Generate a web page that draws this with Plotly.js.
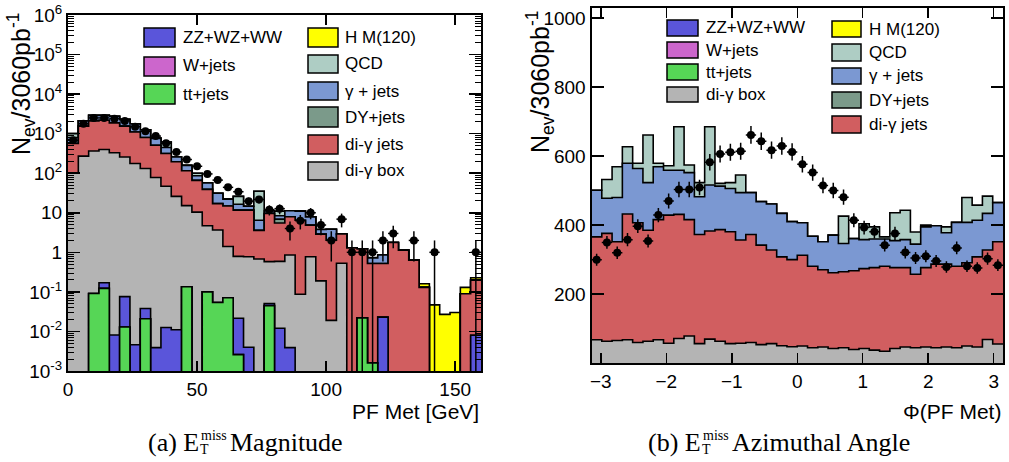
<!DOCTYPE html>
<html><head><meta charset="utf-8">
<script src="https://cdn.plot.ly/plotly-3.0.1.min.js"></script>
<style>html,body{margin:0;padding:0;background:#fff;}#chart{width:1009px;height:462px;}</style>
</head><body><div id="chart"></div>
<script>
// ---------------- data : left panel, PF MET magnitude (40 bins of 4 GeV, 0-160) ----------------
const metStart = 0, metWidth = 4, nBins = 40;
const met_ttjets  = [0,0,0.091,0.123,0,0.013,0,0.021,0,0,0,0.135,0,0.1,0.054,0.071,0.0026,0,0,0.045,0,0,0,0,0,0,0,0,0.022,0.0016,0,0,0,0,0,0,0,0,0,0];
const met_wjets   = [0,0,0,0,0,0,0,0,0,0,0,0,0,0,0,0,0,0,0,0,0,0,0,0,0,0,0,0,0,0,0,0,0,0,0,0,0,0,0,0];
const met_diboson = [0,0,0,0.047,0.0081,0.063,0.0046,0.017,0.0039,0.0126,0.011,0,0,0,0,0,0.019,0.004,0,0.006,0.012,0.0039,0,0,0,0,0,0,0,0,0.023,0,0,0,0,0,0,0,0,0.008];
const met_digbox  = [102,270,363,397,330,258,176,132,78,47,26,15,10.4,4.6,3.6,1.33,0.77,0.77,0.68,0.53,0.58,0.85,0.087,0.77,0.19,0.019,0.53,0,0,0,0,0,0,0,0,0,0,0,0,0];
const met_digjets = [460,1280,1740,1790,1540,1290,924,668,432,269,169,100,55.6,34.4,13.4,13.4,10.9,10.9,2.9,9.1,4.9,7.05,6.4,4.1,2.7,2.0,2.37,1.3,1.2,0.52,0.5,1.78,1.14,0.63,0.13,0,0,0,0.09,0.19];
const met_dyjets  = [0,0,0,0,0,0,0,0,0,0,0,0,0,0,0,0,0,0,0,0,1.4,0,0,0,0,0,0,0,0,0,0,0,0,0,0,0,0,0,0,0];
const met_gjets   = [238,550,800,710,880,750,650,450,250,130,63,43,20,18,14,7.3,4.8,3,2.9,1.4,1.5,3.3,4.5,3,0.9,1.8,0,0,0,0.2,0.33,0,0,0,0,0,0,0,0,0];
const met_qcd     = [200,0,0,0,0,0,0,0,20,170,0,0,14,0,0,0,9.5,0,28.5,0,2.5,0,0,0,0,0,0,0,0,0,0,0,0,0,0,0,0,0,0,0];
const met_higgs   = [0,0,0,0,0,0,0,0,0,0,0,0,0,0,0,0,0,0,0,0,0,0,0,0,0,0,0,0,0,0.02,0,0,0,0.02,0.03,0.047,0.027,0.03,0.04,0.03];
const met_data    = [680,1780,2500,2500,2400,2100,1500,1150,870,570,345,222,150,96,67,44,34,19.7,21.7,12,12.7,4,6.3,10,4.9,2.0,6.9,1,1,1,2,3,0,2,0,1,0,0,0,1];
const metTickVals = [0,50,100,150];
const logTickVals = [1e-3,1e-2,1e-1,1,10,100,1e3,1e4,1e5,1e6];
const logTickText = ['10<sup>-3</sup>','10<sup>-2</sup>','10<sup>-1</sup>','1','10','10<sup>2</sup>','10<sup>3</sup>','10<sup>4</sup>','10<sup>5</sup>','10<sup>6</sup>'];

// ---------------- data : right panel, PF MET azimuthal angle (40 bins, -pi..pi) ----------------
const phiStart = -Math.PI, phiWidth = 2*Math.PI/40;
const phi_digbox  = [68,64,66,68,60,64,68,58,72,79,57,70,64,57,58,60,54,57,51,48,50,45,47,43,45,40,43,38,35,43,47,45,47,45,47,45,50,47,69,56];
const phi_digjets = [298,312,286,364,347,321,348,371,359,337,316,313,323,324,299,313,288,271,257,252,263,236,224,219,220,228,231,239,246,234,230,213,230,242,240,236,241,261,259,296];
const phi_gjets   = [135,102,128,147,157,138,153,130,128,136,109,133,126,125,137,121,126,133,126,110,94,87,81,109,82,93,84,83,79,78,81,87,118,111,91,127,117,106,106,113];
const phi_qcd     = [0,54,89,48,15,138,10,13,126,22,41,169,8,17,51,0,0,0,0,0,0,0,0,0,79,0,46,35,6,81,85,35,5,0,17,0,72,44,50,0];
const phi_data    = [300,350,320,358,397,354,429,470,503,503,509,582,606,611,614,661,643,617,629,612,576,552,515,500,481,414,393,381,342,376,321,305,310,296,279,334,281,276,303,284];
const phiTickVals = [-3,-2,-1,0,1,2,3];
const linTickVals = [200,400,600,800,1000];

// ---------------- style ----------------
const C = {zz:'#5a55da', w:'#cc66cc', tt:'#56d656', h:'#ffff00', qcd:'#aecdc4', gj:'#7b98d2', dy:'#7b9a8a', dgj:'#d15e60', box:'#b4b4b4'};
const SANS = 'Liberation Sans, Arial, Helvetica, sans-serif';
const SERIF = 'Liberation Serif, Times New Roman, serif';
const W = 1009, H = 462;
const px = x => x / W, py = y => 1 - y / H;

const traces = [];
function edges(start, width){ const e=[]; for(let i=0;i<=nBins;i++) e.push(start+i*width); return e; }
function centers(start, width){ const c=[]; for(let i=0;i<nBins;i++) c.push(start+(i+0.5)*width); return c; }

function addStack(comps, xa, ya, start, width, isLog){
  const ex = edges(start, width);
  let cum = new Array(nBins).fill(0);
  const levels = [];
  comps.forEach(c => { cum = cum.map((v,i)=>v+c.vals[i]); levels.push({color:c.color, y:cum.slice()}); });
  for(let k=levels.length-1;k>=0;k--){
    const L = levels[k];
    let y = L.y.concat([L.y[nBins-1]]);
    if(isLog) y = y.map(v => Math.max(v, 1e-9));
    traces.push({type:'scatter', mode:'lines', x:ex, y:y, xaxis:xa, yaxis:ya,
      line:{shape:'hv', color:'#000', width:1.6}, fill:'tozeroy', fillcolor:L.color,
      hoverinfo:'skip', showlegend:false});
  }
}
function addData(vals, xa, ya, start, width, isLog){
  const xs = centers(start, width);
  const y = vals.map(v => (isLog && v<=0) ? null : v);
  const eu = vals.map(v => Math.sqrt(v));
  const ed = vals.map(v => { const e=Math.sqrt(v); return (isLog && e>=v) ? v-1e-5 : e; });
  traces.push({type:'scatter', mode:'markers', x:xs, y:y, xaxis:xa, yaxis:ya,
    marker:{color:'#000', size:8, symbol:'circle'},
    error_y:{type:'data', array:eu, arrayminus:ed, symmetric:false, color:'#000', thickness:1.5, width:0},
    error_x:{type:'constant', value:width/2, color:'#000', thickness:1.5, width:0},
    hoverinfo:'skip', showlegend:false});
}

addStack([
  {vals:met_ttjets, color:C.tt}, {vals:met_wjets, color:C.w}, {vals:met_diboson, color:C.zz},
  {vals:met_digbox, color:C.box}, {vals:met_digjets, color:C.dgj}, {vals:met_dyjets, color:C.dy},
  {vals:met_gjets, color:C.gj}, {vals:met_qcd, color:C.qcd}, {vals:met_higgs, color:C.h}
], 'x', 'y', metStart, metWidth, true);
addData(met_data, 'x', 'y', metStart, metWidth, true);

addStack([
  {vals:phi_digbox, color:C.box}, {vals:phi_digjets, color:C.dgj},
  {vals:phi_gjets, color:C.gj}, {vals:phi_qcd, color:C.qcd}
], 'x2', 'y2', phiStart, phiWidth, false);
addData(phi_data, 'x2', 'y2', phiStart, phiWidth, false);

// minor log ticks
const minorLog = [];
for(let d=-3; d<6; d++) for(let m=2;m<=9;m++) minorLog.push(m*Math.pow(10,d));

const axBase = {showline:true, linecolor:'#000', linewidth:2, mirror:'ticks', ticks:'inside',
  tickcolor:'#000', tickwidth:1.5, showgrid:false, zeroline:false, layer:'above traces',
  tickfont:{family:SANS, size:19, color:'#000'}, fixedrange:true};

const shapes = [], annotations = [];
function legendItem(x0, x1, y0, y1, color, label, lx, ly){
  shapes.push({type:'rect', xref:'paper', yref:'paper', x0:px(x0), x1:px(x1), y0:py(y1), y1:py(y0),
    fillcolor:color, line:{color:'#000', width:1.5}});
  annotations.push({xref:'paper', yref:'paper', x:px(lx), y:py(ly), xanchor:'left', yanchor:'middle',
    text:label, showarrow:false, font:{family:SANS, size:17, color:'#000'}});
}
// left legend
legendItem(144,175,28,47,C.zz,'ZZ+WZ+WW',181,38);
legendItem(144,175,57,76,C.w,'W+jets',181,66);
legendItem(144,175,84,104,C.tt,'tt+jets',181,94);
legendItem(308,338,28,47,C.h,'H M(120)',343,37.5);
legendItem(308,338,55,73,C.qcd,'QCD',343,64);
legendItem(308,338,82,100,C.gj,'γ + jets',343,91);
legendItem(308,338,107,127,C.dy,'DY+jets',343,117);
legendItem(308,338,135,154,C.dgj,'di-γ jets',343,144);
legendItem(308,338,162,180,C.box,'di-γ box',343,171);
// right legend
legendItem(667,698,20,36,C.zz,'ZZ+WZ+WW',704,28);
legendItem(667,698,42,58,C.w,'W+jets',704,50);
legendItem(667,698,64,80,C.tt,'tt+jets',704,72);
legendItem(667,698,87,102,C.box,'di-γ box',704,94.5);
legendItem(832,861,21,37,C.h,'H M(120)',867,29);
legendItem(832,861,44,61,C.qcd,'QCD',867,52.5);
legendItem(832,861,68,84,C.gj,'γ + jets',867,76);
legendItem(832,861,92,108,C.dy,'DY+jets',867,100);
legendItem(832,861,116,133,C.dgj,'di-γ jets',867,124.5);

function ann(text, x, y, xa, ya, font, extra){
  annotations.push(Object.assign({xref:'paper', yref:'paper', x:px(x), y:py(y), xanchor:xa, yanchor:ya,
    text:text, showarrow:false, font:font}, extra||{}));
}
const titleFont = {family:SANS, size:21, color:'#000'};
ann('PF Met [GeV]', 481, 411, 'right', 'middle', titleFont);
ann('Φ(PF Met)', 1003, 411, 'right', 'middle', titleFont);
const yTitleFont = {family:SANS, size:25, color:'#000'};
ann('N<sub>ev</sub>/3060pb<sup>-1</sup>', 21, 11, 'center', 'top', yTitleFont, {textangle:-90});
ann('N<sub>ev</sub>/3060pb<sup>-1</sup>', 540, 9, 'center', 'top', yTitleFont, {textangle:-90});
// captions
const capFont = {family:SERIF, size:26, color:'#000'};
const capSmall = {family:SERIF, size:14, color:'#000'};
ann('(a) E', 201, 442, 'right', 'middle', capFont);
ann('miss', 199, 435, 'left', 'middle', capSmall);
ann('T', 198, 449, 'left', 'middle', capSmall);
ann('Magnitude', 228, 442, 'left', 'middle', capFont);
ann('(b) E', 703, 442, 'right', 'middle', capFont);
ann('miss', 701, 435, 'left', 'middle', capSmall);
ann('T', 700, 449, 'left', 'middle', capSmall);
ann('Azimuthal Angle', 730, 442, 'left', 'middle', capFont);

const layout = {
  width:W, height:H, margin:{l:0,r:0,t:0,b:0}, paper_bgcolor:'#fff', plot_bgcolor:'#fff',
  showlegend:false, font:{family:SANS, color:'#000'},
  xaxis: Object.assign({}, axBase, {domain:[px(68), px(481)], range:[0,160], tickvals:metTickVals, ticklen:10, anchor:'y'}),
  yaxis: Object.assign({}, axBase, {domain:[py(371), py(15)], type:'log', range:[-3,6], tickvals:logTickVals, ticktext:logTickText,
    ticklen:12, anchor:'x', minor:{tickvals:minorLog, ticklen:6, ticks:'inside', tickcolor:'#000', tickwidth:1}}),
  xaxis2: Object.assign({}, axBase, {domain:[px(591.5), px(1003)], range:[-Math.PI, Math.PI], tickvals:phiTickVals, ticklen:10, anchor:'y2'}),
  yaxis2: Object.assign({}, axBase, {domain:[py(363.3), py(7.5)], range:[0,1030], tickvals:linTickVals, ticklen:12, anchor:'x2'}),
  shapes:shapes, annotations:annotations
};
Plotly.newPlot('chart', traces, layout, {staticPlot:true, displayModeBar:false});
</script></body></html>
